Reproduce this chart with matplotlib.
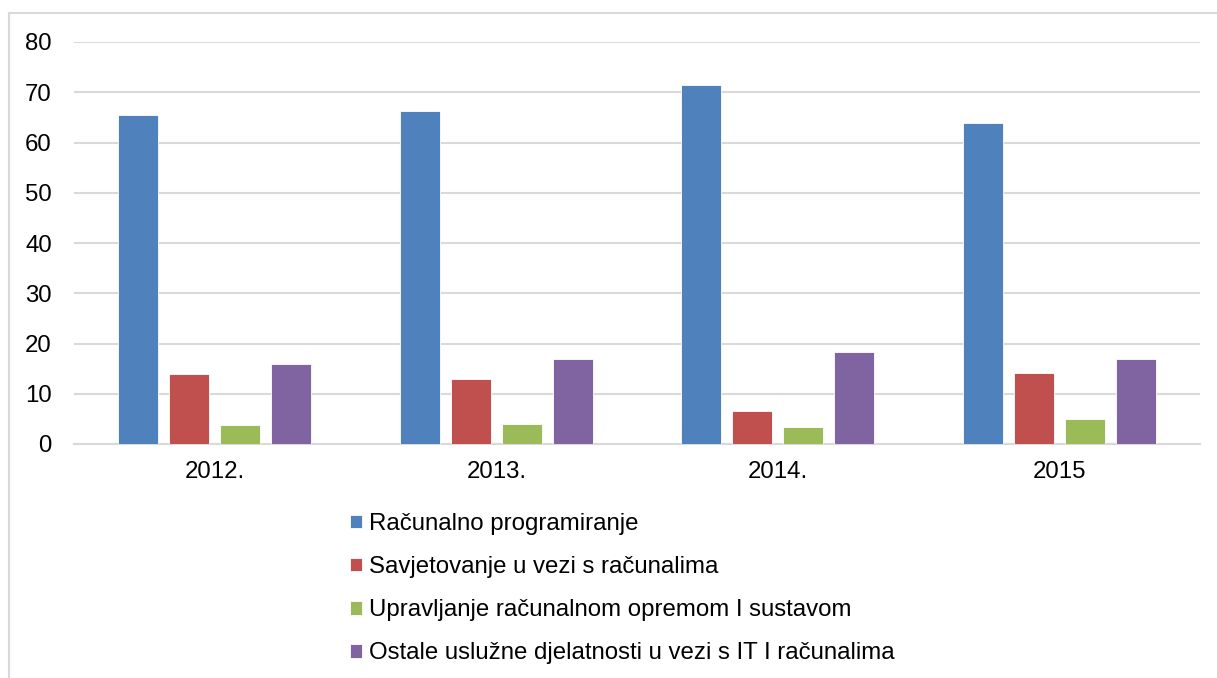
import matplotlib
matplotlib.use("Agg")
import matplotlib.pyplot as plt
from matplotlib.lines import Line2D
import numpy as np

plt.rcParams['font.family'] = ['Liberation Sans', 'DejaVu Sans']

years = ["2012.", "2013.", "2014.", "2015"]
series_names = [
    "Računalno programiranje",
    "Savjetovanje u vezi s računalima",
    "Upravljanje računalnom opremom I sustavom",
    "Ostale uslužne djelatnosti u vezi s IT I računalima",
]
programiranje = [65.5, 66.3, 71.5, 63.9]
savjetovanje = [14.0, 12.9, 6.6, 14.1]
upravljanje = [3.7, 3.9, 3.3, 4.9]
ostale = [15.9, 16.9, 18.4, 16.9]
yticks = [0, 10, 20, 30, 40, 50, 60, 70, 80]

colors = ["#4F81BD", "#C0504D", "#9BBB59", "#8064A2"]
all_series = [programiranje, savjetovanje, upravljanje, ostale]

W, H = 1217, 678
fig = plt.figure(figsize=(W / 100, H / 100), dpi=100)
ax = fig.add_axes([74 / W, 1 - 444 / H, (1200 - 74) / W, (444 - 42) / H])

x = np.arange(len(years))
bw = 0.142
step = 0.1815
for i, (vals, c, name) in enumerate(zip(all_series, colors, series_names)):
    ax.bar(x + (i - 1.5) * step, vals, width=bw, color=c, label=name,
           edgecolor="white", linewidth=0.6, zorder=3)

ax.set_xlim(-0.5, len(years) - 0.5)
ax.set_ylim(0, 80)
ax.set_yticks(yticks)
ax.set_xticks(x)
ax.set_xticklabels(years)
ax.yaxis.grid(True, color="#D9D9D9", linewidth=1.5, zorder=0)
ax.set_axisbelow(True)
for s in ["top", "right", "left"]:
    ax.spines[s].set_visible(False)
ax.spines["bottom"].set_color("#D9D9D9")
ax.spines["bottom"].set_linewidth(1.5)
ax.tick_params(axis="both", length=0, labelsize=17.3, colors="black")
ax.tick_params(axis="y", pad=16)
ax.tick_params(axis="x", pad=12)

handles, labels = ax.get_legend_handles_labels()
fig.legend(handles, labels, loc="upper left",
           bbox_to_anchor=(350 / W, 1 - 513 / H), frameon=False,
           fontsize=17.3, handlelength=0.5, handleheight=0.5,
           handletextpad=0.3, labelspacing=0.88, borderpad=0, borderaxespad=0)

# outer chart border (top and left visible)
fig.add_artist(Line2D([9 / W, 9 / W], [0, 1 - 13 / H], color="#D9D9D9",
                      linewidth=1.5, transform=fig.transFigure))
fig.add_artist(Line2D([9 / W, 1], [1 - 13 / H, 1 - 13 / H], color="#D9D9D9",
                      linewidth=1.5, transform=fig.transFigure))

fig.savefig("out.png", dpi=100, facecolor="white")
